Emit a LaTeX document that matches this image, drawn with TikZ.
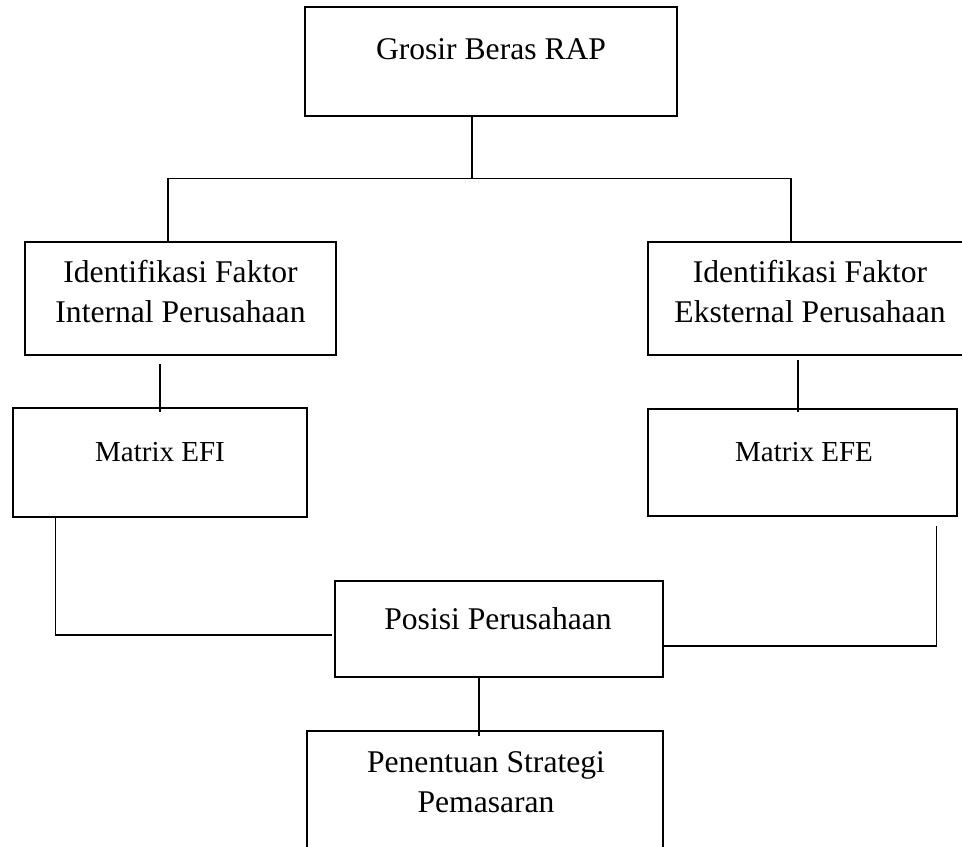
\documentclass[tikz,border=0pt]{standalone}
\usepackage{fontspec}
\setmainfont{Liberation Serif}
\usetikzlibrary{calc}

\begin{document}
\begin{tikzpicture}[
  x=0.5pt, y=-0.5pt,
  every node/.style={align=center},
  box/.style={draw, line width=1.4pt, inner sep=0pt},
  boxtext/.style={font=\fontsize{15.8}{20}\selectfont},
  smalltext/.style={font=\fontsize{14.5}{18}\selectfont},
  link/.style={line width=0.6pt}
]
\useasboundingbox (0,0) rectangle (962,846);

% --- Boxes
\node[box, minimum width=186pt, minimum height=54.5pt] (grosir)    at (491,61.5)  {};
\node[box, minimum width=155.5pt, minimum height=56.5pt] (intl)    at (180.5,298.5) {};
\node[box, minimum width=162pt, minimum height=56.5pt] (extl)      at (810,298.5) {};
\node[box, minimum width=147pt, minimum height=54.5pt] (efi)       at (160,462.5) {};
\node[box, minimum width=154.5pt, minimum height=53.5pt] (efe)     at (802.5,462.5) {};
\node[box, minimum width=164pt, minimum height=48pt] (posisi)      at (499,629)   {};
\node[box, minimum width=178pt, minimum height=69.5pt] (penentuan) at (485,800.5) {};

% --- Texts
\node[boxtext]   (grosirtext)    at (491,49.5)  {Grosir Beras RAP};
\node[boxtext]   (intltext)      at (180.5,292) {Identifikasi Faktor\\Internal Perusahaan};
\node[boxtext]   (extltext)      at (810,292)   {Identifikasi Faktor\\Eksternal Perusahaan};
\node[smalltext] (efitext)       at (160,452.5) {Matrix EFI};
\node[smalltext] (efetext)       at (804,452.5) {Matrix EFE};
\node[boxtext]   (posisitext)    at (498,619)   {Posisi Perusahaan};
\node[boxtext]   (penentuantext) at (486,782)   {Penentuan Strategi\\Pemasaran};

% --- Connectors
\coordinate (split) at ($(grosir.south)+(-19,61)$);
\draw[link] ($(grosir.south)+(-19,0)$) -- (split);
\draw[link] ($(intl.north)+(-12.5,0)$) |- (split);
\draw[link] ($(extl.north)+(-19,0)$) |- (split);

\draw[link] ($(intl.south)+(-20.5,8)$) -- ($(efi.north)+(0,5)$);
\draw[link] ($(extl.south)+(-12,4)$) -- ($(efe.north)+(-4.5,4)$);

\draw[link] ($(efi.south west)+(44,0)$) |- ($(posisi.west)+(-2,6)$);
\draw[link] ($(efe.south east)+(-22,9)$) |- ($(posisi.east)+(0,17)$);

\draw[link] ($(posisi.south)+(-20,0)$) -- ($(penentuan.north)+(-6,6)$);

\end{tikzpicture}
\end{document}
